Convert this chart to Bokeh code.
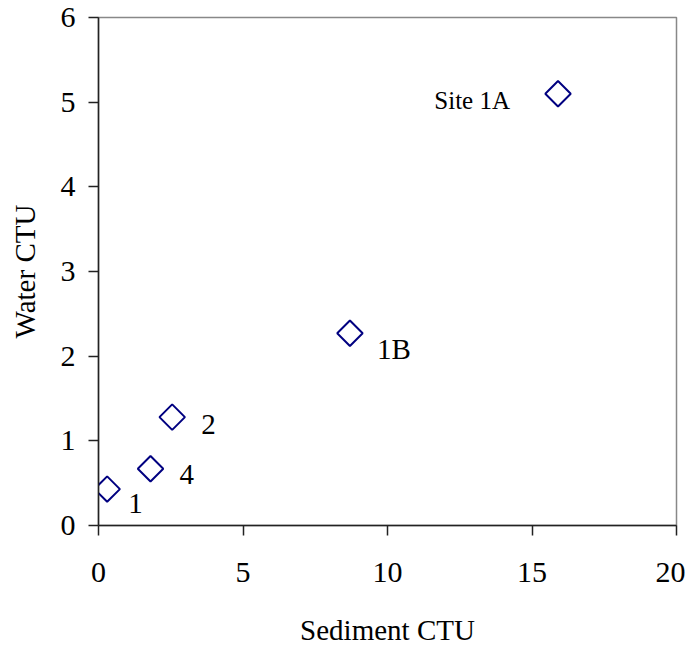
from bokeh.plotting import figure
from bokeh.models import Range1d, FixedTicker, ColumnDataSource
from bokeh.core.properties import value
from bokeh.embed import file_html
from bokeh.resources import INLINE
import numpy as np

# data
sediment_ctu = [0.3, 1.8, 2.55, 8.7, 15.9]
water_ctu = [0.43, 0.67, 1.28, 2.27, 5.1]
site_labels = ["1", "4", "2", "1B", "Site 1A"]

x_ticks = [0, 5, 10, 15, 20]
y_ticks = [0, 1, 2, 3, 4, 5, 6]

# label placement (screen px) and sizes
lab_dx = [21, 29, 29, 27, -48]
lab_dy = [14, 6, 7, 16, 7]
lab_align = ["left", "left", "left", "left", "right"]
lab_size = ["29px", "29px", "29px", "29px", "25px"]

FONT = "Liberation Serif"

src = ColumnDataSource(data=dict(x=sediment_ctu, y=water_ctu, label=site_labels,
                                 dx=lab_dx, dy=lab_dy, align=lab_align, size=lab_size))

p = figure(frame_width=578, frame_height=508, output_backend="svg", toolbar_location=None,
           x_range=Range1d(0, 20), y_range=Range1d(0, 6),
           min_border_left=98, min_border_right=9, min_border_top=17, min_border_bottom=115)

p.scatter("x", "y", source=src, marker="square", angle=np.pi / 4, size=18,
          fill_color=None, line_color="#000080", line_width=2)

p.text("x", "y", text="label", source=src, x_offset="dx", y_offset="dy",
       text_align="align", text_baseline="middle", text_font=value(FONT),
       text_font_size="size", text_color="black")

p.grid.visible = False
p.outline_line_color = "#888888"
p.outline_line_width = 1.5
p.background_fill_color = "white"
p.border_fill_color = "white"

p.xaxis.ticker = FixedTicker(ticks=x_ticks)
p.yaxis.ticker = FixedTicker(ticks=y_ticks)
p.xaxis.axis_label = "Sediment CTU"
p.yaxis.axis_label = "Water CTU"

for ax in (p.xaxis, p.yaxis):
    ax.axis_line_color = "#222222"
    ax.axis_line_width = 1.5
    ax.major_tick_line_color = "#222222"
    ax.major_tick_line_width = 1.5
    ax.major_tick_out = 10
    ax.major_tick_in = 0
    ax.minor_tick_line_color = None
    ax.major_label_text_font = FONT
    ax.major_label_text_font_size = "30px"
    ax.major_label_text_color = "black"
    ax.axis_label_text_font = FONT
    ax.axis_label_text_font_size = "29px"
    ax.axis_label_text_font_style = "normal"
    ax.axis_label_text_color = "black"

p.xaxis.major_label_standoff = 27
p.xaxis.axis_label_standoff = 29
p.yaxis.major_label_standoff = 13
p.yaxis.axis_label_standoff = 17

open("out.html", "w").write(file_html(p, INLINE))
